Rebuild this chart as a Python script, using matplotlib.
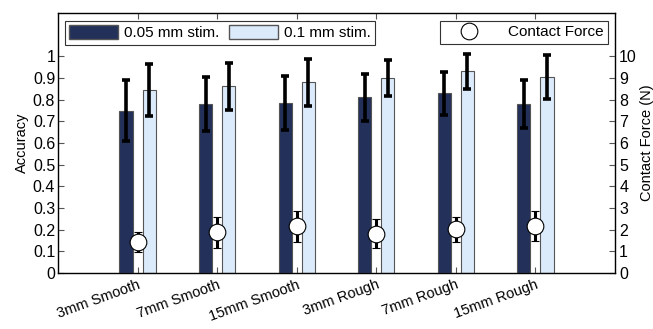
import matplotlib
matplotlib.use("Agg")
import matplotlib.pyplot as plt
import numpy as np
from matplotlib.lines import Line2D
from matplotlib.patches import Patch

plt.rcParams['font.family'] = ['Liberation Sans', 'DejaVu Sans']
plt.rcParams['font.size'] = 9.5

categories = ['3mm Smooth', '7mm Smooth', '15mm Smooth', '3mm Rough', '7mm Rough', '15mm Rough']
acc_005 = [0.75, 0.781, 0.784, 0.81, 0.83, 0.78]
err_005 = [0.14, 0.125, 0.125, 0.11, 0.10, 0.11]
acc_01 = [0.843, 0.861, 0.88, 0.90, 0.93, 0.905]
err_01 = [0.12, 0.107, 0.107, 0.083, 0.08, 0.10]
force = [1.43, 1.87, 2.15, 1.82, 2.02, 2.16]
force_err = [0.48, 0.70, 0.73, 0.65, 0.57, 0.68]

dark = '#22305a'
light = '#dcebfb'

fig = plt.figure(figsize=(6.53, 3.29), dpi=100)
ax = fig.add_axes([58/653, 1-273/329, (615-58)/653, (273-13)/329])
x = np.arange(1, len(categories)+1)
w = 0.165
off = 0.145
ax.bar(x-off, acc_005, w, color=dark, edgecolor='#555555', linewidth=0.8, zorder=2)
ax.bar(x+off, acc_01, w, color=light, edgecolor='#555555', linewidth=0.8, zorder=2)
ax.errorbar(x-off, acc_005, yerr=err_005, fmt='none', ecolor='black', elinewidth=2.6, capsize=3.2, capthick=2.6, zorder=3)
ax.errorbar(x+off, acc_01, yerr=err_01, fmt='none', ecolor='black', elinewidth=2.6, capsize=3.2, capthick=2.6, zorder=3)
ax.set_xlim(0, 7)
ax.set_ylim(0, 1.2)
ax.set_yticks(np.arange(0, 1.01, 0.1))
ax.set_yticklabels(['0'] + ['%.1f' % v for v in np.arange(0.1, 0.95, 0.1)] + ['1'], fontsize=11.5)
ax.set_xticks(x)
ax.set_xticklabels(categories, rotation=20, ha='right', rotation_mode='anchor', fontsize=10.5)
ax.tick_params(direction='in', top=True, length=4, width=0.8, color='#555555')
ax.tick_params(axis='y', right=False, pad=2)
ax.set_ylabel('Accuracy', fontsize=10.5, labelpad=3)
for s in ax.spines.values():
    s.set_linewidth(1.0)
    s.set_color('#333333')

ax2 = ax.twinx()
ax2.set_ylim(0, 12)
ax2.set_yticks(np.arange(0, 11, 1))
ax2.set_yticklabels([str(i) for i in range(11)], fontsize=11.5)
ax2.tick_params(direction='in', length=4, width=0.8, color='#555555', pad=3)
ax2.errorbar(x, force, yerr=force_err, fmt='o', color='black', mfc='white', mec='black', ms=12, mew=0.8,
             elinewidth=2.2, capsize=3, capthick=2.2, zorder=4)
ax2.set_ylabel('Contact Force (N)', fontsize=10.5, labelpad=2)

leg1 = ax.legend([Patch(facecolor=dark, edgecolor='#555555'), Patch(facecolor=light, edgecolor='#555555')],
                 ['0.05 mm stim.', '0.1 mm stim.'], loc='upper left', ncol=2, fancybox=False,
                 edgecolor='#333333', framealpha=1, fontsize=11, handlelength=3.2, handleheight=1.0,
                 bbox_to_anchor=(0.012, 0.97), borderpad=0.3, columnspacing=0.6, handletextpad=0.4,
                 borderaxespad=0)
leg1.get_frame().set_linewidth(0.8)
leg2 = ax2.legend([Line2D([], [], marker='o', ls='none', mfc='white', mec='black', ms=12, mew=0.8)],
                  ['Contact Force'], loc='upper right', fancybox=False, edgecolor='#333333', framealpha=1,
                  fontsize=11, bbox_to_anchor=(0.987, 0.97), borderpad=0.3, handlelength=3.2,
                  handletextpad=0.9, borderaxespad=0)
leg2.get_frame().set_linewidth(0.8)

fig.savefig('out.png', dpi=100)
